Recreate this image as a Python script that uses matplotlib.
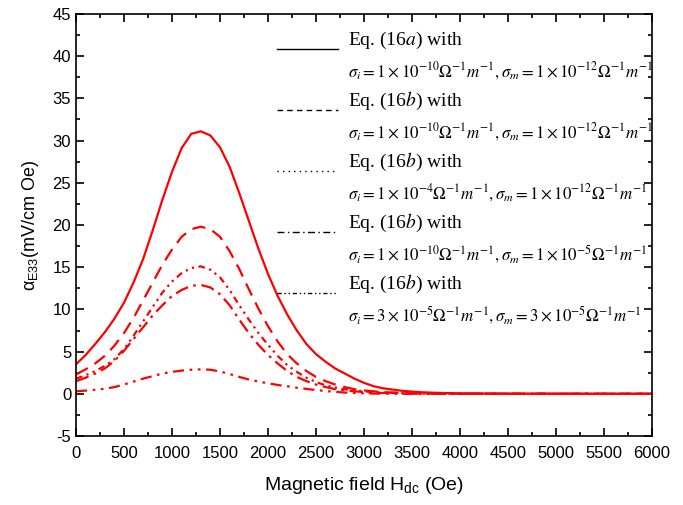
import matplotlib
matplotlib.use("Agg")
import matplotlib.pyplot as plt
from matplotlib.ticker import MultipleLocator

plt.rcParams['font.family'] = ['Liberation Sans', 'DejaVu Sans']
plt.rcParams['axes.unicode_minus'] = False

# magnetic field (Oe)
H = [0, 100, 200, 300, 400, 500, 600, 700, 800, 900, 1000, 1100, 1200, 1300,
     1400, 1500, 1600, 1700, 1800, 1900, 2000, 2100, 2200, 2300, 2400, 2500,
     2600, 2700, 2800, 2900, 3000, 3100, 3200, 3400, 3600, 3800, 4000, 4500,
     5000, 5500, 6000]

# alpha_E33 (mV/cm Oe) for each case
eq16a = [3.5, 4.6, 5.9, 7.3, 8.9, 10.8, 13.2, 16.0, 19.4, 23.0, 26.3, 29.1, 30.8, 31.1,
         30.6, 29.2, 26.9, 23.8, 20.5, 17.2, 14.2, 11.6, 9.4, 7.5, 5.9, 4.7,
         3.8, 3.0, 2.4, 1.8, 1.3, 0.9, 0.65, 0.35, 0.18, 0.1, 0.05, 0.02,
         0.01, 0.0, 0.0]
eq16b_1 = [2.3, 2.9, 3.6, 4.5, 5.7, 7.2, 9.0, 11.1, 13.2, 15.3, 17.1, 18.6, 19.5, 19.8,
           19.5, 18.6, 16.9, 14.8, 12.4, 10.1, 8.0, 6.2, 4.7, 3.6, 2.7, 2.0,
           1.5, 1.1, 0.8, 0.55, 0.4, 0.3, 0.2, 0.1, 0.05, 0.03, 0.02, 0.0,
           0.0, 0.0, 0.0]
eq16b_2 = [1.8, 2.2, 2.7, 3.3, 4.1, 5.3, 6.9, 8.6, 10.3, 12.0, 13.3, 14.3, 14.9, 15.1,
           14.7, 13.8, 12.3, 10.5, 8.8, 7.2, 5.8, 4.5, 3.4, 2.6, 1.9, 1.4,
           1.0, 0.75, 0.55, 0.4, 0.3, 0.2, 0.15, 0.08, 0.04, 0.02, 0.01, 0.0,
           0.0, 0.0, 0.0]
eq16b_3 = [1.5, 1.9, 2.4, 3.0, 3.9, 5.1, 6.5, 7.9, 9.3, 10.5, 11.6, 12.3, 12.8, 12.9,
           12.6, 11.8, 10.5, 8.8, 7.2, 5.8, 4.6, 3.6, 2.7, 2.0, 1.5, 1.1,
           0.8, 0.55, 0.4, 0.3, 0.2, 0.14, 0.1, 0.05, 0.03, 0.01, 0.0, 0.0,
           0.0, 0.0, 0.0]
eq16b_4 = [0.3, 0.38, 0.48, 0.6, 0.8, 1.1, 1.45, 1.8, 2.1, 2.4, 2.6, 2.75, 2.85, 2.9,
           2.85, 2.65, 2.35, 2.0, 1.7, 1.45, 1.25, 1.05, 0.9, 0.72, 0.58, 0.45,
           0.33, 0.23, 0.15, 0.1, 0.06, 0.03, 0.02, 0.01, 0.0, 0.0, 0.0, 0.0,
           0.0, 0.0, 0.0]

series = [eq16a, eq16b_1, eq16b_2, eq16b_3, eq16b_4]
eq_labels = ["Eq. (16$a$) with", "Eq. (16$b$) with", "Eq. (16$b$) with",
             "Eq. (16$b$) with", "Eq. (16$b$) with"]
sigma_labels = [
    r"$\sigma_i=1\times10^{-10}\Omega^{-1}m^{-1},\sigma_m=1\times10^{-12}\Omega^{-1}m^{-1}$",
    r"$\sigma_i=1\times10^{-10}\Omega^{-1}m^{-1},\sigma_m=1\times10^{-12}\Omega^{-1}m^{-1}$",
    r"$\sigma_i=1\times10^{-4}\Omega^{-1}m^{-1},\sigma_m=1\times10^{-12}\Omega^{-1}m^{-1}$",
    r"$\sigma_i=1\times10^{-10}\Omega^{-1}m^{-1},\sigma_m=1\times10^{-5}\Omega^{-1}m^{-1}$",
    r"$\sigma_i=3\times10^{-5}\Omega^{-1}m^{-1},\sigma_m=3\times10^{-5}\Omega^{-1}m^{-1}$",
]

# red curves in the plot, black thin lines in the legend
curve_styles = ['-', (0, (6, 3.5)), (0, (3, 2, 1, 2, 1, 2)),
                (0, (6, 2.5, 1.2, 2.5)), (0, (5, 2.5, 1.2, 2.5, 1.2, 2.5))]
legend_styles = ['-', (0, (4, 3)), (0, (1, 3)), (0, (5, 2.5, 1, 2.5)),
                 (0, (3, 2, 1, 2, 1, 2))]

fig = plt.figure(figsize=(6.83, 5.05), dpi=100)
ax = fig.add_axes([0.1113, 0.1366, 0.8433, 0.8357])

for y, ls in zip(series, curve_styles):
    ax.plot(H, y, color='red', lw=1.6, linestyle=ls)

ax.set_xlim(0, 6000)
ax.set_ylim(-5, 45)
ax.xaxis.set_major_locator(MultipleLocator(500))
ax.xaxis.set_minor_locator(MultipleLocator(250))
ax.yaxis.set_major_locator(MultipleLocator(5))
ax.yaxis.set_minor_locator(MultipleLocator(2.5))
ax.tick_params(which='both', direction='in', top=True, right=True, labelsize=12, width=1.2)
ax.tick_params(which='major', length=6)
ax.tick_params(which='minor', length=3)
ax.tick_params(axis='x', pad=7)
for s in ax.spines.values():
    s.set_linewidth(1.2)

ax.set_xlabel(r"Magnetic field H$\mathregular{_{dc}}$ (Oe)", fontsize=14, labelpad=10)
ax.set_ylabel(r"α$\mathregular{_{E33}}$(mV/cm Oe)", fontsize=13, labelpad=8)

# hand-made legend
eq_y = [0.938, 0.794, 0.649, 0.505, 0.360]
for i in range(5):
    yh = eq_y[i] - 0.022
    ax.plot([0.349, 0.455], [yh, yh], transform=ax.transAxes, color='black',
            lw=1.0, linestyle=legend_styles[i])
    ax.text(0.472, eq_y[i], eq_labels[i], transform=ax.transAxes, fontsize=14,
            family='Liberation Serif', math_fontfamily='stix', va='center')
    ax.text(0.472, eq_y[i] - 0.073, sigma_labels[i], transform=ax.transAxes, fontsize=12.2,
            family='Liberation Serif', math_fontfamily='stix', va='center')

fig.savefig("out.png", dpi=100)
